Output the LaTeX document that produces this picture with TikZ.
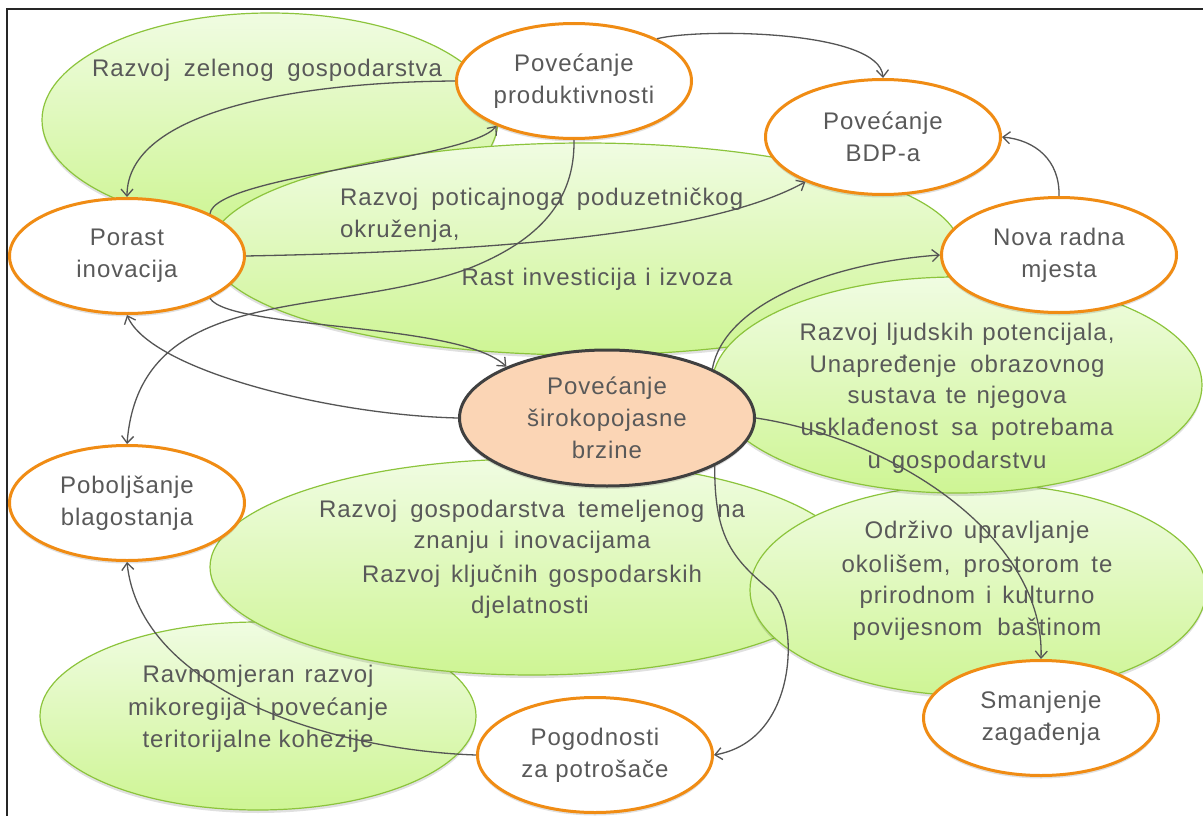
\documentclass[tikz,border=0pt]{standalone}
\usepackage{fontspec}
\setmainfont{Liberation Sans}[LetterSpace=4]
\usetikzlibrary{shapes.geometric,arrows.meta,shadows}
\definecolor{gborder}{RGB}{140,196,60}
\definecolor{gtop}{RGB}{240,252,226}
\definecolor{gbot}{RGB}{206,245,148}
\definecolor{orng}{RGB}{240,140,20}
\definecolor{txt}{RGB}{89,89,89}
\definecolor{conn}{RGB}{85,85,85}
\definecolor{peach}{RGB}{251,213,181}
\definecolor{cborder}{RGB}{64,64,64}
\newcommand{\jline}[2]{\makebox[#1pt][s]{#2}}
\begin{document}
\begin{tikzpicture}[x=1pt,y=-1pt,
  softshadow/.style={drop shadow={shadow xshift=0pt, shadow yshift=-3pt, opacity=0.12, fill=black}},
  greenell/.style={draw=gborder, line width=1.2pt, top color=gtop, bottom color=gbot, softshadow},
  gtext/.style={anchor=base, inner sep=0pt, text=txt, font=\fontsize{24}{32}\selectfont},
  goal/.style={ellipse, draw=orng, line width=3pt, fill=white, minimum width=235, minimum height=115, inner sep=0pt, align=center, text=txt, font=\fontsize{24}{32}\selectfont, softshadow},
  hub/.style={ellipse, draw=cborder, line width=3pt, fill=peach, minimum width=295, minimum height=136, inner sep=0pt, align=center, text=txt, font=\fontsize{24}{32}\selectfont, softshadow},
  link/.style={draw=conn, line width=1.3pt, -{Straight Barb[length=7pt,width=12pt]}}
]
\useasboundingbox (0,0) rectangle (1203,816);
\fill[white] (0,0) rectangle (1203,816);
\draw[line width=1.2pt, black!85] (1260,9) -- (7,9) -- (7,860);

% green ellipses
\path[greenell] (270,120) ellipse [x radius=228, y radius=107];
\path[greenell] (258,716) ellipse [x radius=218, y radius=94];
\path[greenell] (585,249) ellipse [x radius=375, y radius=106];
\path[greenell] (532,567) ellipse [x radius=322, y radius=108];
\path[greenell] (978,590) ellipse [x radius=228, y radius=106];
\path[greenell] (957,385) ellipse [x radius=245, y radius=108];

% green texts
\node[gtext] (g1a) at (267,77) {\jline{350}{Razvoj zelenog gospodarstva}};
\node[gtext, anchor=base west] (g2a) at (340,205) {\jline{403}{Razvoj poticajnoga poduzetničkog}};
\node[gtext, anchor=base west] (g2b) at (340,237) {okruženja,};
\node[gtext] (g2c) at (597,285) {\jline{271}{Rast investicija i izvoza}};

\node[gtext] (g3a) at (957,340) {\jline{315}{Razvoj ljudskih potencijala,}};
\node[gtext] (g3b) at (957,372) {\jline{295}{Unapređenje obrazovnog}};
\node[gtext] (g3c) at (957,403) {\jline{219}{sustava te njegova}};
\node[gtext] (g3d) at (957,435) {\jline{313}{usklađenost sa potrebama}};
\node[gtext] (g3e) at (957,468) {\jline{179}{u gospodarstvu}};

\node[gtext] (g4a) at (532,517) {\jline{426}{Razvoj gospodarstva temeljenog na}};
\node[gtext] (g4b) at (532,548) {\jline{237}{znanju i inovacijama}};
\node[gtext] (g4c) at (532,582) {\jline{340}{Razvoj ključnih gospodarskih}};
\node[gtext] (g4d) at (530,613) {djelatnosti};

\node[gtext] (g5a) at (977,538) {\jline{225}{Održivo upravljanje}};
\node[gtext] (g5b) at (977,572) {\jline{271}{okolišem, prostorom te}};
\node[gtext] (g5c) at (977,603) {\jline{235}{prirodnom i kulturno}};
\node[gtext] (g5d) at (977,635) {\jline{249}{povijesnom baštinom}};

\node[gtext] (g6a) at (258,682) {\jline{231}{Ravnomjeran razvoj}};
\node[gtext] (g6b) at (258,715) {\jline{260}{mikoregija i povećanje}};
\node[gtext] (g6c) at (258,747) {\jline{231}{teritorijalne kohezije}};

% orange goal ellipses
\node[goal] (O1) at (574,81) {Povećanje\\produktivnosti};
\node[goal] (O2) at (883,137) {Povećanje\\BDP-a};
\node[goal] (O3) at (1059,255) {Nova radna\\mjesta};
\node[goal] (O4) at (127,256) {Porast\\inovacija};
\node[goal] (O5) at (127,503) {Poboljšanje\\blagostanja};
\node[goal] (O6) at (595,755) {Pogodnosti\\za potrošače};
\node[goal] (O7) at (1041,718) {Smanjenje\\zagađenja};
\node[hub] (C) at (607,418) {Povećanje\\širokopojasne\\brzine};

% connectors
\draw[link] (O1.27) .. controls (700,28) and (880,30) .. (O2.north);
\draw[link] (O1.west) .. controls (300,82) and (127,110) .. (O4.north);
\draw[link] (O4.27) .. controls (215,175) and (470,160) .. (O1.210);
\draw[link] (O1.south) .. controls (575,200) and (540,240) .. (470,268)
                       .. controls (330,320) and (140,280) .. (O5.north);
\draw[link] (O4.east) .. controls (450,252) and (700,240) .. (O2.210);
\draw[link] (O4.-27) .. controls (230,330) and (460,322) .. (C.153);
\draw[link] (C.west) .. controls (330,415) and (150,370) .. (O4.south);
\draw[link] (C.25) .. controls (725,300) and (840,262) .. (O3.west);
\draw[link] (O3.north) .. controls (1060,160) and (1035,140) .. (O2.east);
\draw[link] (C.east) .. controls (900,440) and (1045,540) .. (O7.north);
\draw[link] (C.-24) .. controls (714,540) and (735,560) .. (770,590)
                    .. controls (800,616) and (800,740) .. (O6.east);
\draw[link] (O6.west) .. controls (330,750) and (140,690) .. (O5.south);
\end{tikzpicture}
\end{document}
